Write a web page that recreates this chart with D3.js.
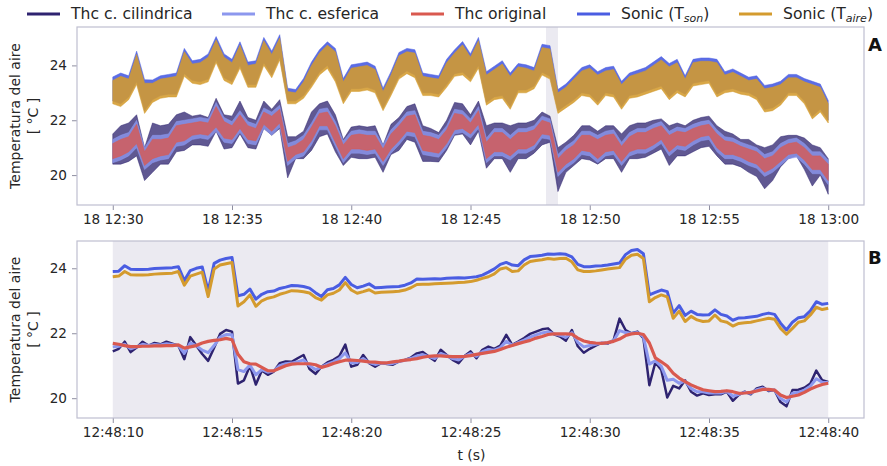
<!DOCTYPE html>
<html>
<head>
<meta charset="utf-8">
<script src="https://cdn.jsdelivr.net/npm/d3@7"></script>
<style>
  html, body { margin: 0; padding: 0; background: #fff; }
  svg { display: block; font-family: "DejaVu Sans", sans-serif; }
</style>
</head>
<body>
<svg id="chart" width="887" height="466"></svg>
<script>
// ---------- Series: panel A, 30 min record, min/max per 20 s bin ----------
const cilHiA = [21.5,21.8,21.9,22.2,21.0,21.9,21.8,21.85,22.2,22.3,
  22.15,22.2,22.1,22.8,22.2,22.15,22.7,22.1,22.0,22.7,
  22.4,22.75,21.4,21.4,21.6,22.3,22.6,22.7,22.2,21.3,
  21.75,21.8,21.75,21.8,21.1,21.85,22.1,22.5,22.6,21.8,
  21.7,21.55,22.0,22.65,22.6,22.2,22.7,21.8,21.9,21.9,
  21.8,21.9,21.9,22.0,22.3,22.15,21.0,21.2,21.45,21.8,
  21.8,21.6,21.8,21.8,21.5,21.8,21.9,21.9,22.0,22.05,
  21.8,21.9,21.8,22.0,22.1,22.15,21.8,21.6,21.5,21.3,
  21.3,21.1,21.0,21.1,21.4,21.45,21.45,21.35,21.1,21.0,
  20.6];
const cilLoA = [20.4,20.4,20.5,20.7,19.8,20.1,20.4,20.4,20.85,20.9,
  21.1,21.1,21.05,21.6,20.95,21.0,21.5,21.0,20.95,21.7,
  21.45,21.7,19.9,20.6,20.6,20.9,21.4,21.5,20.85,20.35,
  20.65,20.6,20.6,20.65,20.1,20.75,20.9,21.3,21.2,20.5,
  20.5,20.48,20.9,21.45,21.5,21.1,21.6,20.25,20.6,20.6,
  20.1,20.6,20.6,20.8,21.1,21.2,19.4,20.1,20.35,20.6,
  20.55,20.4,20.6,20.6,20.1,20.6,20.6,20.65,20.8,20.95,
  20.35,20.7,20.7,20.85,21.0,21.05,20.7,20.4,20.4,20.3,
  20.1,19.95,19.5,19.8,20.3,20.6,20.7,20.2,19.6,20.0,
  19.3];
const esfHiA = [21.3,21.45,21.55,22.0,21.0,21.45,21.45,21.5,21.95,22.0,
  22.05,22.1,22.05,22.65,22.1,21.95,22.35,21.95,21.85,22.45,
  22.3,22.55,21.15,21.25,21.45,21.9,22.4,22.45,21.95,21.25,
  21.6,21.65,21.6,21.6,21.1,21.65,21.95,22.3,22.35,21.6,
  21.55,21.45,21.8,22.4,22.35,22.05,22.5,21.35,21.7,21.7,
  21.45,21.7,21.7,21.8,22.15,22.05,20.75,21.05,21.25,21.6,
  21.6,21.45,21.6,21.65,21.2,21.55,21.7,21.7,21.85,21.95,
  21.6,21.75,21.7,21.85,21.95,22.0,21.65,21.4,21.35,21.2,
  21.1,21.0,20.75,20.85,21.15,21.3,21.35,21.15,20.85,20.85,
  20.55];
const esfLoA = [20.45,20.55,20.7,21.0,20.2,20.45,20.55,20.6,21.05,21.1,
  21.3,21.35,21.3,21.6,21.2,21.15,21.55,21.15,21.1,21.7,
  21.45,21.75,20.35,20.6,20.7,21.1,21.65,21.65,21.05,20.45,
  20.8,20.8,20.75,20.8,20.35,20.8,21.1,21.45,21.4,20.75,
  20.7,20.65,21.0,21.5,21.55,21.35,21.7,20.45,20.7,20.7,
  20.55,20.8,20.8,20.95,21.35,21.3,19.95,20.25,20.45,20.75,
  20.7,20.45,20.7,20.75,20.35,20.7,20.8,20.8,20.95,21.15,
  20.7,20.95,20.9,21.1,21.25,21.3,20.85,20.6,20.6,20.5,
  20.35,20.25,19.95,20.1,20.35,20.6,20.65,20.4,20.05,20.05,
  19.65];
const origHiA = [21.15,21.3,21.4,21.85,20.85,21.3,21.3,21.35,21.8,21.85,
  21.9,21.95,21.9,22.5,21.95,21.8,22.2,21.8,21.7,22.3,
  22.15,22.4,21.0,21.1,21.3,21.75,22.25,22.3,21.8,21.1,
  21.45,21.5,21.45,21.45,20.95,21.5,21.8,22.15,22.2,21.45,
  21.4,21.3,21.65,22.25,22.2,21.9,22.35,21.2,21.55,21.55,
  21.3,21.55,21.55,21.65,22.0,21.9,20.6,20.9,21.1,21.45,
  21.45,21.3,21.45,21.5,21.05,21.4,21.55,21.55,21.7,21.8,
  21.45,21.6,21.55,21.7,21.8,21.85,21.5,21.25,21.2,21.05,
  20.95,20.85,20.6,20.7,21.0,21.15,21.2,21.0,20.7,20.7,
  20.4];
const origLoA = [20.6,20.7,20.85,21.15,20.35,20.6,20.7,20.75,21.2,21.25,
  21.45,21.5,21.45,21.75,21.35,21.3,21.7,21.3,21.25,21.85,
  21.6,21.9,20.5,20.75,20.85,21.25,21.8,21.8,21.2,20.6,
  20.95,20.95,20.9,20.95,20.5,20.95,21.25,21.6,21.55,20.9,
  20.85,20.8,21.15,21.65,21.7,21.5,21.85,20.6,20.85,20.85,
  20.7,20.95,20.95,21.1,21.5,21.45,20.1,20.4,20.6,20.9,
  20.85,20.6,20.85,20.9,20.5,20.85,20.95,20.95,21.1,21.3,
  20.85,21.1,21.05,21.25,21.4,21.45,21.0,20.75,20.75,20.65,
  20.5,20.4,20.1,20.25,20.5,20.75,20.8,20.55,20.2,20.2,
  19.8];
const tsonHiA = [23.58,23.72,23.62,24.52,23.48,23.47,23.62,23.67,23.72,24.62,
  24.17,24.22,24.42,25.05,24.42,24.22,24.86,24.12,24.17,25.02,
  24.52,25.12,23.17,23.12,23.52,24.12,24.57,24.86,24.62,23.52,
  24.02,24.07,24.12,23.97,23.17,23.77,24.47,24.62,24.57,23.72,
  23.67,23.62,24.22,24.57,24.87,24.42,25.02,23.77,23.97,24.17,
  23.72,24.07,24.02,23.92,24.77,24.72,23.12,23.32,23.62,23.92,
  24.02,23.77,23.92,23.97,23.42,23.72,23.82,23.92,24.12,24.32,
  24.07,24.22,23.62,24.22,24.27,24.27,24.22,23.77,23.87,23.72,
  23.57,23.62,23.27,23.32,23.42,23.67,23.67,23.52,23.42,23.32,
  22.72];
const tsonLoA = [22.7,22.6,22.85,23.4,22.35,22.75,22.9,22.95,22.95,23.7,
  23.45,23.4,23.5,24.2,23.55,23.4,24.0,23.3,23.3,24.1,
  23.65,24.3,22.7,22.7,22.9,23.3,23.75,24.0,23.5,22.7,
  23.15,23.15,23.2,23.1,22.45,23.0,23.6,23.8,23.65,23.0,
  23.0,22.95,23.3,23.7,23.75,23.5,24.0,22.65,22.85,22.9,
  22.5,23.1,23.1,23.25,23.75,23.6,22.35,22.55,22.75,23.0,
  22.95,22.65,23.0,22.95,22.5,22.9,22.95,23.05,23.15,23.25,
  22.85,23.1,22.95,23.35,23.4,23.45,22.95,23.1,23.15,23.05,
  23.0,22.85,22.4,22.45,22.65,23.0,23.0,22.7,22.15,22.4,
  22.0];
const taireHiA = [23.45,23.6,23.5,24.4,23.35,23.35,23.5,23.55,23.6,24.5,
  24.05,24.1,24.3,24.93,24.3,24.1,24.74,24.0,24.05,24.9,
  24.4,25.0,23.05,23.0,23.4,24.0,24.45,24.74,24.5,23.4,
  23.9,23.95,24.0,23.85,23.05,23.65,24.35,24.5,24.45,23.6,
  23.55,23.5,24.1,24.45,24.75,24.3,24.9,23.65,23.85,24.05,
  23.6,23.95,23.9,23.8,24.65,24.6,23.0,23.2,23.5,23.8,
  23.9,23.65,23.8,23.85,23.3,23.6,23.7,23.8,24.0,24.2,
  23.95,24.1,23.5,24.1,24.15,24.15,24.1,23.65,23.75,23.6,
  23.45,23.5,23.15,23.2,23.3,23.55,23.55,23.4,23.3,23.2,
  22.6];
const taireLoA = [22.6,22.5,22.75,23.3,22.25,22.65,22.8,22.85,22.85,23.6,
  23.35,23.3,23.4,24.1,23.45,23.3,23.9,23.2,23.2,24.0,
  23.55,24.2,22.6,22.6,22.8,23.2,23.65,23.89,23.4,22.6,
  23.05,23.05,23.1,23.0,22.35,22.9,23.5,23.7,23.55,22.9,
  22.9,22.85,23.2,23.6,23.65,23.4,23.9,22.55,22.75,22.8,
  22.4,23.0,23.0,23.15,23.65,23.5,22.25,22.45,22.65,22.9,
  22.85,22.55,22.9,22.85,22.4,22.8,22.85,22.95,23.05,23.15,
  22.75,23.0,22.85,23.25,23.3,23.35,22.85,23.0,23.05,22.95,
  22.9,22.75,22.3,22.35,22.55,22.9,22.9,22.6,22.05,22.3,
  21.9];

// ---------- Series: panel B, 12:48:10 - 12:48:40, every 0.25 s ----------
const cilB = [21.44,21.52,21.74,21.42,21.56,21.74,21.62,21.70,21.66,21.74,
  21.68,21.62,21.20,21.88,21.62,21.36,21.15,21.55,21.98,22.10,
  22.05,20.45,20.55,21.00,20.42,20.85,20.72,20.82,21.08,21.13,
  21.12,21.23,21.33,20.90,20.75,20.97,21.10,21.18,21.30,21.65,
  20.97,21.03,21.33,21.08,20.97,21.08,21.05,21.03,21.13,21.18,
  21.25,21.38,21.42,21.28,21.15,21.49,21.33,21.18,21.08,21.30,
  21.44,21.23,21.49,21.59,21.52,21.62,21.95,21.64,21.74,21.85,
  21.98,22.05,22.12,22.15,21.97,21.90,21.77,22.10,21.60,21.40,
  21.52,21.62,21.70,21.68,21.79,22.45,22.10,22.00,22.05,21.85,
  20.40,21.10,20.87,20.02,20.38,20.30,20.55,20.20,20.08,20.15,
  20.10,20.12,20.12,20.20,19.92,20.10,20.20,20.12,20.30,20.35,
  20.22,20.25,19.88,19.75,20.25,20.26,20.32,20.45,20.85,20.55,
  20.50];
const esfB = [21.58,21.60,21.66,21.52,21.58,21.66,21.62,21.65,21.64,21.68,
  21.65,21.62,21.38,21.70,21.62,21.48,21.40,21.62,21.88,21.96,
  21.95,20.88,20.82,21.02,20.72,20.88,20.80,20.84,21.00,21.06,
  21.08,21.12,21.18,21.00,20.88,20.96,21.05,21.12,21.22,21.40,
  21.08,21.10,21.22,21.10,21.04,21.08,21.07,21.07,21.13,21.17,
  21.22,21.30,21.34,21.28,21.22,21.38,21.31,21.22,21.18,21.29,
  21.37,21.29,21.43,21.50,21.48,21.56,21.75,21.63,21.71,21.79,
  21.88,21.95,22.01,22.05,21.98,21.94,21.87,22.02,21.72,21.58,
  21.62,21.66,21.70,21.70,21.77,22.08,22.02,21.99,22.02,21.90,
  21.05,21.15,20.98,20.55,20.58,20.46,20.53,20.30,20.20,20.20,
  20.16,20.16,20.16,20.21,20.06,20.12,20.18,20.15,20.26,20.31,
  20.25,20.25,19.99,19.88,20.15,20.18,20.25,20.37,20.60,20.49,
  20.48];
const origB = [21.69,21.66,21.62,21.59,21.59,21.60,21.60,21.61,21.61,21.62,
  21.62,21.64,21.54,21.58,21.62,21.70,21.75,21.78,21.80,21.84,
  21.80,21.35,21.12,21.06,21.05,20.95,20.85,20.84,20.92,21.00,
  21.05,21.06,21.06,21.06,21.03,20.95,21.00,21.07,21.12,21.17,
  21.17,21.16,21.14,21.12,21.11,21.09,21.09,21.12,21.14,21.17,
  21.19,21.22,21.26,21.29,21.30,21.30,21.29,21.28,21.28,21.29,
  21.31,21.35,21.38,21.41,21.44,21.50,21.57,21.62,21.68,21.73,
  21.78,21.85,21.90,21.96,21.98,21.98,21.98,21.97,21.85,21.76,
  21.72,21.70,21.69,21.71,21.75,21.82,21.93,21.98,22.00,21.96,
  21.70,21.24,21.12,20.99,20.77,20.62,20.51,20.41,20.33,20.26,
  20.23,20.20,20.21,20.23,20.20,20.15,20.16,20.18,20.22,20.27,
  20.27,20.25,20.10,20.02,20.06,20.10,20.18,20.28,20.36,20.42,
  20.46];
const tsonB = [23.90,23.91,24.08,23.97,23.96,23.96,23.97,23.99,24.00,24.01,
  24.02,24.05,23.62,23.93,24.00,24.04,23.30,24.15,24.25,24.30,
  24.33,23.15,23.20,23.36,23.05,23.20,23.28,23.30,23.38,23.42,
  23.47,23.46,23.44,23.39,23.25,23.13,23.34,23.38,23.49,23.72,
  23.50,23.40,23.45,23.52,23.40,23.41,23.42,23.43,23.44,23.48,
  23.55,23.67,23.66,23.67,23.68,23.67,23.69,23.70,23.71,23.70,
  23.72,23.74,23.79,23.88,23.98,24.12,24.18,24.10,24.08,24.26,
  24.36,24.38,24.40,24.44,24.43,24.45,24.43,24.35,24.12,24.05,
  24.05,24.07,24.08,24.10,24.13,24.16,24.42,24.55,24.58,24.45,
  23.18,23.26,23.33,23.28,22.62,22.85,22.55,22.68,22.58,22.56,
  22.57,22.72,22.58,22.53,22.40,22.47,22.48,22.50,22.52,22.58,
  22.62,22.58,22.31,22.10,22.34,22.48,22.51,22.69,22.97,22.89,
  22.92];
const taireB = [23.74,23.76,23.90,23.80,23.79,23.79,23.80,23.82,23.83,23.84,
  23.85,23.90,23.48,23.76,23.82,23.88,23.13,23.98,24.10,24.14,
  24.18,22.84,22.97,23.18,22.83,23.00,23.08,23.12,23.20,23.25,
  23.31,23.30,23.28,23.24,23.10,23.02,23.18,23.23,23.33,23.56,
  23.33,23.23,23.28,23.34,23.24,23.26,23.27,23.28,23.29,23.33,
  23.40,23.50,23.51,23.51,23.52,23.53,23.54,23.55,23.56,23.57,
  23.59,23.63,23.69,23.74,23.83,23.98,24.02,23.90,23.92,24.10,
  24.21,24.24,24.26,24.30,24.28,24.30,24.31,24.20,23.95,23.90,
  23.90,23.92,23.95,23.98,24.00,24.02,24.28,24.40,24.43,24.30,
  22.97,23.10,23.18,23.12,22.46,22.68,22.36,22.52,22.41,22.36,
  22.38,22.56,22.38,22.34,22.22,22.30,22.32,22.34,22.38,22.42,
  22.46,22.43,22.15,21.97,22.15,22.34,22.38,22.56,22.80,22.73,
  22.77];

// ---------- Labels ----------
const legendLabels = ["Thc c. cilindrica", "Thc c. esferica", "Thc original", "Sonic (T", "Sonic (T"];
const legendSubs = [null, null, null, "son", "aire"];
const yTicks = [20, 22, 24];
const yLabel = "Temperatura del aire";
const yUnit = "[ °C ]";
const xLabelB = "t (s)";
const panelTags = ["A", "B"];

// ---------- Styling ----------
const C = {
  cil: "#2e2370", esf: "#8c97ee", orig: "#d9594f",
  tson: "#4a5de2", taire: "#d49b2e",
  spine: "#bfbfd0", tick: "#8e8ea0", text: "#262626", shade: "#ebeaf1"
};
const legendColors = [C.cil, C.esf, C.orig, C.tson, C.taire];

// sample times
const t0A = Date.UTC(2021, 0, 18, 12, 30, 0);
const timesA = d3.range(cilHiA.length).map(k => new Date(t0A + k * 20000));
const t0B = Date.UTC(2021, 0, 18, 12, 48, 10);
const timesB = d3.range(cilB.length).map(k => new Date(t0B + k * 250));
const zoomStart = new Date(t0B), zoomEnd = new Date(t0B + 30000);

const svg = d3.select("#chart");

function frame(g, x, y, top, bottom, left, right, tickVals, fmt) {
  const xa = d3.axisBottom(x).tickValues(tickVals).tickFormat(fmt).tickSize(5).tickPadding(4);
  g.append("g").attr("transform", `translate(0,${bottom})`).call(xa)
    .call(s => s.select(".domain").remove())
    .call(s => s.selectAll("line").attr("stroke", C.tick))
    .call(s => s.selectAll("text").attr("fill", C.text).attr("font-size", 13.6)
      .attr("font-family", "DejaVu Sans"));
  const ya = d3.axisLeft(y).tickValues(yTicks).tickFormat(d3.format("d")).tickSize(5).tickPadding(5);
  g.append("g").attr("transform", `translate(${left},0)`).call(ya)
    .call(s => s.select(".domain").remove())
    .call(s => s.selectAll("line").attr("stroke", C.tick))
    .call(s => s.selectAll("text").attr("fill", C.text).attr("font-size", 13.6)
      .attr("font-family", "DejaVu Sans"));
  g.append("rect").attr("x", left).attr("y", top).attr("width", right - left)
    .attr("height", bottom - top).attr("fill", "none").attr("stroke", C.spine).attr("stroke-width", 1.2);
  // two-line y label
  const cy = (top + bottom) / 2;
  g.append("text").attr("transform", `translate(20,${cy}) rotate(-90)`)
    .attr("text-anchor", "middle").attr("font-size", 14).attr("fill", C.text).text(yLabel);
  g.append("text").attr("transform", `translate(38,${cy}) rotate(-90)`)
    .attr("text-anchor", "middle").attr("font-size", 14).attr("fill", C.text).text(yUnit);
}

const left = 77, right = 864;

// ================= Panel A =================
{
  const top = 27, bottom = 205;
  const g = svg.append("g");
  const x = d3.scaleUtc().domain([new Date(t0A - 90000), new Date(t0A + 30 * 60000 + 90000)]).range([left, right]);
  const y = d3.scaleLinear().domain([18.91, 25.40]).range([bottom, top]);
  g.append("rect").attr("x", x(zoomStart)).attr("y", top)
    .attr("width", x(zoomEnd) - x(zoomStart)).attr("height", bottom - top).attr("fill", C.shade);

  const bands = [
    [cilHiA, cilLoA, C.cil, 0.76],
    [esfHiA, esfLoA, C.esf, 0.8],
    [origHiA, origLoA, C.orig, 0.78],
    [tsonHiA, tsonLoA, C.tson, 0.9],
    [taireHiA, taireLoA, C.taire, 0.88]
  ];
  bands.forEach(([hi, lo, col, op]) => {
    const area = d3.area().x((d, i) => x(timesA[i])).y0((d, i) => y(lo[i])).y1(d => y(d));
    g.append("path").datum(hi).attr("d", area).attr("fill", col).attr("fill-opacity", op)
      .attr("stroke", col).attr("stroke-opacity", 0.5).attr("stroke-width", 1).attr("stroke-linejoin", "round");
  });
  const ticks = d3.range(7).map(k => new Date(t0A + k * 5 * 60000));
  frame(g, x, y, top, bottom, left, right, ticks, d3.utcFormat("%d %H:%M"));
  g.append("text").attr("x", 868).attr("y", 51).attr("font-size", 18).attr("font-weight", "bold")
    .attr("fill", "#111").text(panelTags[0]);
}

// ================= Panel B =================
{
  const top = 241, bottom = 418;
  const g = svg.append("g");
  const x = d3.scaleUtc().domain([new Date(t0B - 1500), new Date(t0B + 31500)]).range([left, right]);
  const y = d3.scaleLinear().domain([19.39, 24.84]).range([bottom, top]);
  g.append("rect").attr("x", x(zoomStart)).attr("y", top)
    .attr("width", x(zoomEnd) - x(zoomStart)).attr("height", bottom - top).attr("fill", C.shade);

  const lines = [
    [cilB, C.cil, 2.5],
    [esfB, C.esf, 3],
    [origB, C.orig, 3.2],
    [tsonB, C.tson, 3],
    [taireB, C.taire, 3]
  ];
  lines.forEach(([vals, col, w]) => {
    const line = d3.line().x((d, i) => x(timesB[i])).y(d => y(d));
    g.append("path").datum(vals).attr("d", line).attr("fill", "none").attr("stroke", col)
      .attr("stroke-width", w).attr("stroke-linejoin", "round");
  });
  const ticks = d3.range(7).map(k => new Date(t0B + k * 5000));
  frame(g, x, y, top, bottom, left, right, ticks, d3.utcFormat("%H:%M:%S"));
  g.append("text").attr("x", (left + right) / 2 + 1).attr("y", 460).attr("text-anchor", "middle")
    .attr("font-size", 14).attr("fill", C.text).text(xLabelB);
  g.append("text").attr("x", 868).attr("y", 264).attr("font-size", 18).attr("font-weight", "bold")
    .attr("fill", "#111").text(panelTags[1]);
}

// ================= Legend =================
{
  const g = svg.append("g").attr("font-size", 15.6).attr("fill", C.text);
  const handleX = [27, 222, 411, 577, 739];
  legendLabels.forEach((lab, i) => {
    g.append("line").attr("x1", handleX[i]).attr("x2", handleX[i] + 33)
      .attr("y1", 14).attr("y2", 14).attr("stroke", legendColors[i]).attr("stroke-width", 3);
    const t = g.append("text").attr("x", handleX[i] + 44).attr("y", 19).text(lab);
    if (legendSubs[i]) {
      t.append("tspan").attr("font-size", 11).attr("font-style", "italic").attr("dy", 3).text(legendSubs[i]);
      t.append("tspan").attr("dy", -3).text(")");
    }
  });
}
</script>
</body>
</html>
